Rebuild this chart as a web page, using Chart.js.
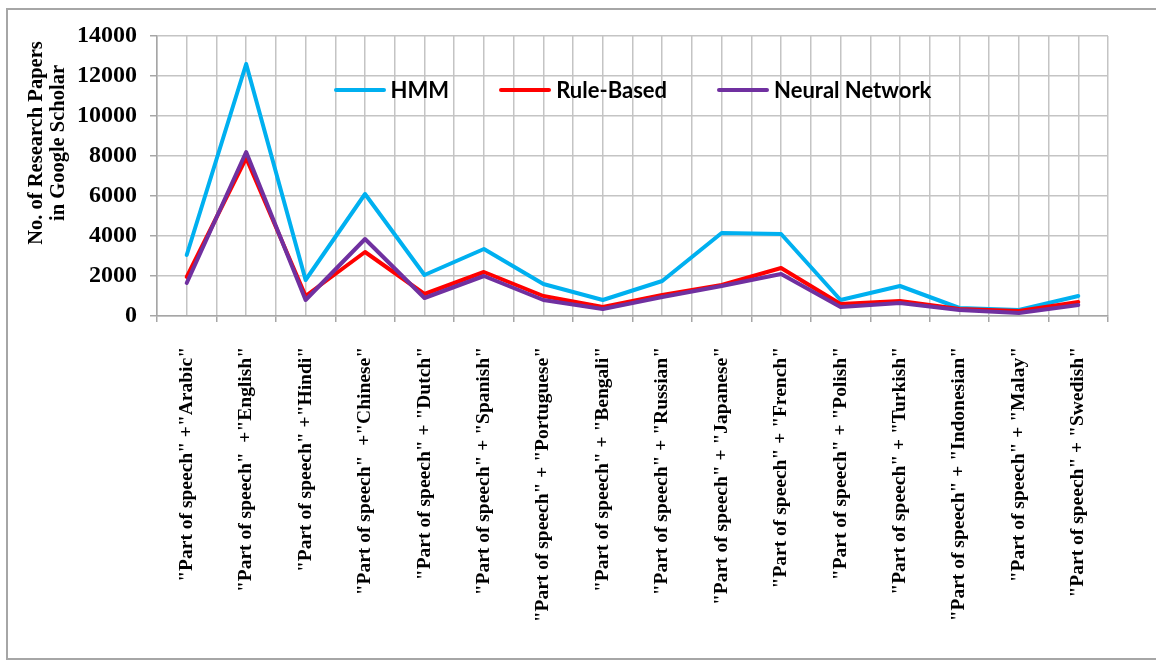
<!DOCTYPE html>
<html>
<head>
<meta charset="utf-8">
<script src="https://cdn.jsdelivr.net/npm/chart.js@4.4.0/dist/chart.umd.min.js"></script>
<style>
  html, body { margin: 0; padding: 0; background: #ffffff; }
  #wrap { position: relative; width: 1156px; height: 663px; overflow: hidden; background: #fff; }
  #frame { position: absolute; left: 6px; top: 8px; width: 1170px; height: 652px; border: 2px solid #a6a6a6; box-sizing: border-box; pointer-events: none; }
  #legend { position: absolute; top: 78px; left: 157px; width: 951px; display: flex; justify-content: center; gap: 50px; font-family: Lato, "Liberation Sans", sans-serif; font-weight: bold; font-size: 22px; color: #000; line-height: 24px; }
  .item { display: flex; align-items: center; }
  .sw { display: inline-block; width: 52px; height: 4px; border-radius: 2px; margin-right: 5px; }
  canvas { position: absolute; left: 0; top: 0; }
</style>
</head>
<body>
<div id="wrap">
  <canvas id="c" width="1156" height="663"></canvas>
  <div id="frame"></div>
  <div id="legend"></div>
</div>
<script>
const categories = [
  '"Part of speech" +"Arabic"',
  '"Part of speech"  +"English"',
  '"Part of speech" +"Hindi"',
  '"Part of speech"  +"Chinese"',
  '"Part of speech" + "Dutch"',
  '"Part of speech" + "Spanish"',
  '"Part of speech" + "Portuguese"',
  '"Part of speech" + "Bengali"',
  '"Part of speech" + "Russian"',
  '"Part of speech" + "Japanese"',
  '"Part of speech" + "French"',
  '"Part of speech" + "Polish"',
  '"Part of speech" + "Turkish"',
  '"Part of speech" + "Indonesian"',
  '"Part of speech" + "Malay"',
  '"Part of speech" + "Swedish"'
];
const hmm        = [3050, 12600, 1800, 6100, 2050, 3350, 1600, 800, 1750, 4150, 4100, 800, 1500, 400, 300, 1000];
const ruleBased  = [1950, 7900, 1000, 3200, 1100, 2200, 1000, 450, 1050, 1550, 2400, 600, 750, 350, 250, 700];
const neuralNet  = [1650, 8200, 800, 3850, 900, 2000, 800, 350, 950, 1500, 2100, 450, 650, 300, 150, 550];
const seriesNames = ['HMM', 'Rule-Based', 'Neural Network'];
const seriesColors = ['#00B0F0', '#FF0000', '#7030A0'];
const yTicks = [0, 2000, 4000, 6000, 8000, 10000, 12000, 14000];
const yTitle = ['No. of Research Papers', 'in Google Scholar'];

const seriesData = [hmm, ruleBased, neuralNet];
const datasets = seriesData.map((d, i) => ({
  label: seriesNames[i],
  data: d,
  borderColor: seriesColors[i],
  backgroundColor: seriesColors[i],
  borderWidth: 4,
  pointRadius: 0,
  tension: 0,
  fill: false,
  borderJoinStyle: 'round',
  borderCapStyle: 'round',
  order: 3 - i,
  xAxisID: 'x'
}));

const gridColor = '#c4c4c4';
const axisColor = '#a6a6a6';
const serif = '"Liberation Serif", "Times New Roman", serif';
const nCat = categories.length;

// Y-axis title: two centred lines, placed like the original (upper part of the axis)
const yTitlePlugin = {
  id: 'yTitle',
  afterDraw(chart) {
    const ctx = chart.ctx;
    ctx.save();
    ctx.font = 'bold 20.5px ' + serif;
    ctx.fillStyle = '#000';
    ctx.textAlign = 'center';
    ctx.textBaseline = 'middle';
    const cy = 143;
    const xs = [37, 59];
    yTitle.forEach((line, i) => {
      ctx.save();
      ctx.translate(xs[i], cy);
      ctx.rotate(-Math.PI / 2);
      ctx.fillText(line, 0, 0);
      ctx.restore();
    });
    ctx.restore();
  }
};

new Chart(document.getElementById('c'), {
  type: 'line',
  data: { labels: categories, datasets },
  options: {
    responsive: false,
    animation: false,
    devicePixelRatio: 1,
    layout: { padding: { left: 25, right: 48, top: 36, bottom: 31 } },
    plugins: { legend: { display: false }, tooltip: { enabled: false } },
    scales: {
      xg: {
        type: 'linear',
        position: 'bottom',
        weight: 0,
        min: -0.5, max: nCat - 0.5,
        afterBuildTicks: (axis) => {
          const t = [];
          for (let k = 0; k <= 2 * nCat; k++) t.push({ value: -0.5 + k / 2 });
          axis.ticks = t;
        },
        afterFit: (axis) => { axis.height = 6; },
        grid: {
          color: gridColor, lineWidth: 1.5, drawTicks: true, tickLength: 6,
          tickColor: (ctx) => (ctx.tick && Math.abs(ctx.tick.value % 1) === 0.5) ? axisColor : 'rgba(0,0,0,0)'
        },
        border: { color: axisColor, width: 1.5 },
        ticks: { display: false }
      },
      x: {
        type: 'category',
        position: 'bottom',
        weight: 1,
        offset: true,
        afterFit: (axis) => { axis.height = 310; },
        grid: { display: false },
        border: { display: false },
        ticks: {
          autoSkip: false, minRotation: 90, maxRotation: 90, padding: 17,
          color: '#000', font: { family: serif, weight: 'bold', size: 19.5 }
        }
      },
      y: {
        min: 0, max: 14000,
        afterBuildTicks: (axis) => { axis.ticks = yTicks.map(v => ({ value: v })); },
        afterFit: (axis) => { axis.width = 132; },
        grid: { color: gridColor, lineWidth: 1.5, tickLength: 7, tickColor: axisColor },
        border: { color: axisColor, width: 1.5 },
        ticks: {
          padding: 13, color: '#000', font: { family: serif, weight: 'bold', size: 24 },
          callback: (v) => String(v)
        },
        title: { display: false }
      }
    }
  },
  plugins: [yTitlePlugin, {
    id: 'lg',
    afterRender(chart) {
      const lg = document.getElementById('legend');
      if (lg.childElementCount) return;
      const ca = chart.chartArea;
      lg.style.left = ca.left + 'px';
      lg.style.width = (ca.right - ca.left) + 'px';
      chart.data.datasets.forEach(ds => {
        const it = document.createElement('div'); it.className = 'item';
        const sw = document.createElement('span'); sw.className = 'sw'; sw.style.background = ds.borderColor;
        const tx = document.createElement('span'); tx.textContent = ds.label;
        it.appendChild(sw); it.appendChild(tx); lg.appendChild(it);
      });
    }
  }]
});
</script>
</body>
</html>
